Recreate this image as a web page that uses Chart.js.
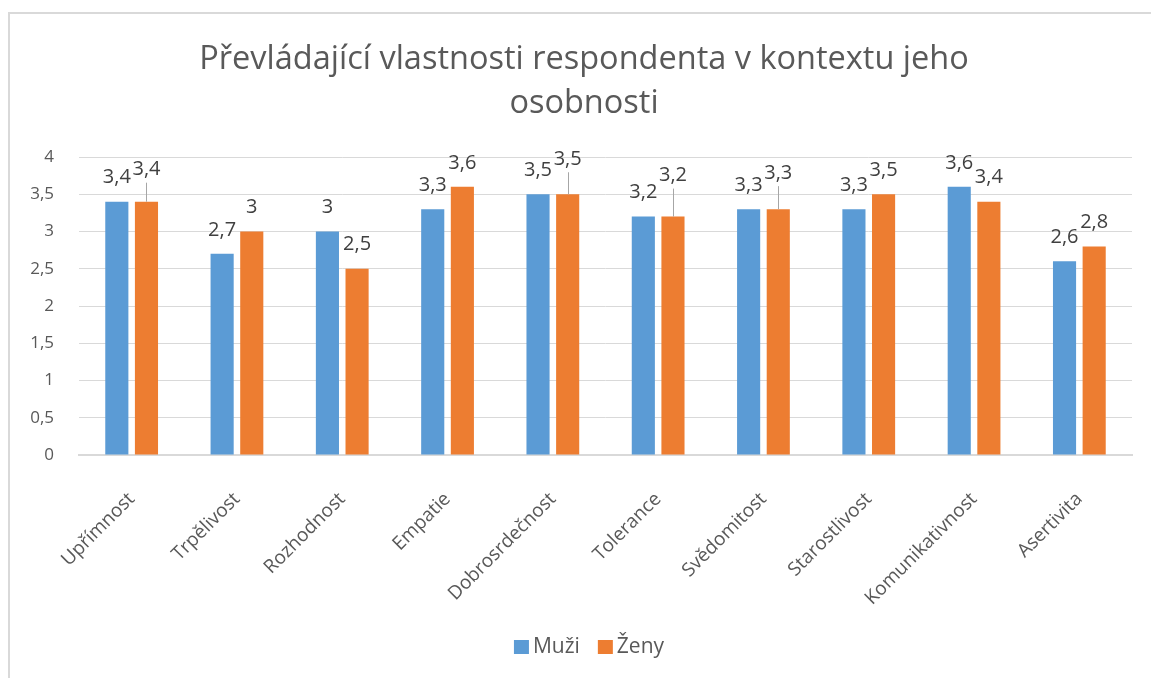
<!DOCTYPE html>
<html>
<head>
<meta charset="utf-8">
<script src="https://cdn.jsdelivr.net/npm/chart.js@4.4.1/dist/chart.umd.min.js"></script>
<style>
    html, body { margin: 0; padding: 0; background: #fff; }
    #wrap { position: relative; width: 1151px; height: 678px; }
</style>
</head>
<body>
<div id="wrap"><canvas id="MyChart"></canvas></div>
<script>
var titleLines = ['Převládající vlastnosti respondenta v kontextu jeho', 'osobnosti'];
var categories = ['Upřímnost', 'Trpělivost', 'Rozhodnost', 'Empatie', 'Dobrosrdečnost', 'Tolerance', 'Svědomitost', 'Starostlivost', 'Komunikativnost', 'Asertivita'];
var muzi = [3.4, 2.7, 3, 3.3, 3.5, 3.2, 3.3, 3.3, 3.6, 2.6];
var zeny = [3.4, 3, 2.5, 3.6, 3.5, 3.2, 3.3, 3.5, 3.4, 2.8];
var yTicks = [0, 0.5, 1, 1.5, 2, 2.5, 3, 3.5, 4];

// extra lift (px) of the Ženy labels that Excel moved up, with a leader line
var zenyLabelLift = [8, 0, 0, 0, 11, 17, 12, 0, 0, 0];

var FONT = "'Open Sans', sans-serif";
var GREY = '#595959';
var FRAME_CENTER = 584;

function czNum(v) {
    return String(v).replace('.', ',');
}

// chart frame (left + top edge as in the source picture)
var framePlugin = {
    id: 'frame',
    beforeDraw: function (chart) {
        var c = chart.ctx;
        c.save();
        c.fillStyle = '#fff';
        c.fillRect(0, 0, chart.width, chart.height);
        c.fillStyle = '#D9D9D9';
        c.fillRect(8, 12, 2, chart.height - 12);
        c.fillRect(8, 12, chart.width - 8, 2);
        c.restore();
    }
};

// title centred on the whole frame, not on the padded layout box
var titlePlugin = {
    id: 'frameTitle',
    afterDraw: function (chart) {
        var c = chart.ctx;
        c.save();
        c.font = '32.5px ' + FONT;
        c.fillStyle = GREY;
        c.textAlign = 'center';
        c.textBaseline = 'middle';
        titleLines.forEach(function (t, i) {
            c.fillText(t, FRAME_CENTER, 60 + i * 44);
        });
        c.restore();
    }
};

// value labels above bars
var labelPlugin = {
    id: 'barLabels',
    afterDatasetsDraw: function (chart) {
        var c = chart.ctx;
        c.save();
        c.font = '20px ' + FONT;
        c.fillStyle = '#404040';
        c.textAlign = 'center';
        c.textBaseline = 'middle';
        chart.data.datasets.forEach(function (ds, di) {
            var meta = chart.getDatasetMeta(di);
            meta.data.forEach(function (bar, i) {
                var lift = di === 1 ? zenyLabelLift[i] : 0;
                var ly = bar.y - 24 - lift;
                if (lift > 0) {
                    c.strokeStyle = '#A6A6A6';
                    c.lineWidth = 1;
                    c.beginPath();
                    c.moveTo(Math.round(bar.x) + 0.5, bar.y);
                    c.lineTo(Math.round(bar.x) + 0.5, ly + 13);
                    c.stroke();
                }
                c.fillText(czNum(ds.data[i]), bar.x, ly);
            });
        });
        c.restore();
    }
};

// legend centred on the whole frame
var legendPlugin = {
    id: 'frameLegend',
    afterDraw: function (chart) {
        var c = chart.ctx;
        var box = 15, gap = 4, between = 18;
        c.save();
        c.font = '21px ' + FONT;
        c.textBaseline = 'middle';
        c.textAlign = 'left';
        var items = chart.data.datasets.map(function (ds) {
            return { text: ds.label, color: ds.backgroundColor, w: c.measureText(ds.label).width };
        });
        var total = 0;
        items.forEach(function (it, i) { total += box + gap + it.w + (i > 0 ? between : 0); });
        var x = FRAME_CENTER + 5 - total / 2;
        var y = 647;
        items.forEach(function (it) {
            c.fillStyle = it.color;
            c.fillRect(x, y - 7, box, 14);
            c.fillStyle = GREY;
            c.fillText(it.text, x + box + gap, y);
            x += box + gap + it.w + between;
        });
        c.restore();
    }
};

var ctx = document.getElementById('MyChart').getContext('2d');
var config = {
    type: 'bar',
    data: {
        labels: categories,
        datasets: [
            {
                label: 'Muži',
                backgroundColor: '#5B9BD5',
                data: muzi
            },
            {
                label: 'Ženy',
                backgroundColor: '#ED7D31',
                data: zeny
            }
        ]
    },
    options: {
        responsive: true,
        maintainAspectRatio: false,
        animation: false,
        devicePixelRatio: 1,
        categoryPercentage: 0.563,
        barPercentage: 0.78,
        layout: {
            padding: { left: 0, right: 19, top: 157, bottom: 63 }
        },
        plugins: {
            title: { display: false },
            legend: { display: false },
            tooltip: { enabled: false }
        },
        scales: {
            x: {
                grid: { display: false, drawTicks: false },
                border: { display: true, color: '#D9D9D9', width: 2 },
                afterFit: function (scale) { scale.height = 160; },
                ticks: {
                    color: GREY,
                    font: { family: FONT, size: 19 },
                    minRotation: 45,
                    maxRotation: 45,
                    padding: 33
                }
            },
            y: {
                min: 0,
                max: 4,
                afterFit: function (scale) { scale.width = 79; },
                afterBuildTicks: function (scale) {
                    scale.ticks = yTicks.map(function (v) { return { value: v }; });
                },
                grid: { color: '#D9D9D9', lineWidth: 1, drawTicks: false },
                border: { display: false },
                ticks: {
                    color: GREY,
                    font: { family: FONT, size: 17 },
                    padding: 25,
                    callback: function (v) { return czNum(v); }
                }
            }
        }
    },
    plugins: [framePlugin, labelPlugin, titlePlugin, legendPlugin]
};
var barChart = new Chart(ctx, config);
</script>
</body>
</html>
